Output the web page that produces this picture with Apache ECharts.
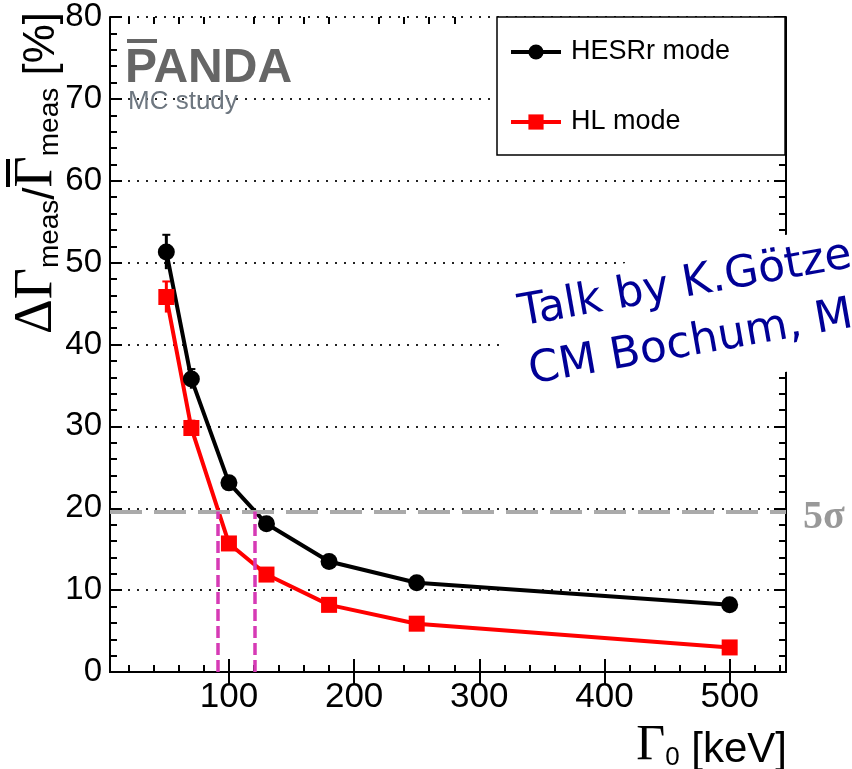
<!DOCTYPE html>
<html>
<head>
<meta charset="utf-8">
<script src="https://cdn.jsdelivr.net/npm/echarts@6/dist/echarts.min.js"></script>
<style>
  html, body { margin: 0; padding: 0; background: #fff; }
  #main { width: 852px; height: 769px; }
</style>
</head>
<body>
<div id="main"></div>
<script>
// Gamma_0 values [keV]
var gammaKeV = [50, 70, 100, 130, 180, 250, 500];
// relative width resolution [%]
var hesrRel = [51.3, 35.8, 23.1, 18.1, 13.5, 10.9, 8.2];
var hesrErr = [2.1, 1.2, 0.6, 0.5, 0.4, 0.3, 0.3];
var hlRel = [45.8, 29.8, 15.7, 11.9, 8.2, 5.9, 3.0];
var hlErr = [1.9, 0.9, 0.5, 0.4, 0.3, 0.2, 0.2];

// 5 sigma level and where the curves cross it
var fiveSigma = 19.6;
var crossX = [91, 121];

// axes
var xMin = 5, xMax = 545;
var xMajor = [100, 200, 300, 400, 500];
var xMinor = [20, 40, 60, 80, 120, 140, 160, 180, 220, 240, 260, 280, 320, 340, 360, 380, 420, 440, 460, 480, 520, 540];
var yMin = 0, yMax = 80, yStep = 10;

var axisCol = '#000';
var sans = 'Liberation Sans, Arial, sans-serif';
var serif = 'Liberation Serif, Times New Roman, serif';

function pairs(xs, ys) {
  return xs.map(function (x, i) { return [x, ys[i]]; });
}
function triples(xs, ys, es) {
  return xs.map(function (x, i) { return [x, ys[i], es[i]]; });
}

function errBar(color) {
  return function (params, api) {
    var x = api.value(0), y = api.value(1), e = api.value(2);
    var top = api.coord([x, y + e]);
    var bot = api.coord([x, y - e]);
    return {
      type: 'group',
      children: [
        { type: 'line', shape: { x1: top[0], y1: top[1], x2: bot[0], y2: bot[1] }, style: { stroke: color, lineWidth: 3 } },
        { type: 'line', shape: { x1: top[0] - 4, y1: top[1], x2: top[0] + 4, y2: top[1] }, style: { stroke: color, lineWidth: 2 } }
      ]
    };
  };
}

var myChart = echarts.init(document.getElementById('main'));

var gridBox = { left: 110, right: 66, top: 17, bottom: 97 };

const option = {
  animation: false,
  backgroundColor: '#fff',
  grid: [
    Object.assign({}, gridBox),
    Object.assign({}, gridBox)
  ],
  legend: {
    orient: 'vertical',
    left: 497,
    top: 17,
    data: ['HESRr mode', 'HL mode'],
    backgroundColor: '#fff',
    borderColor: '#000',
    borderWidth: 1.5,
    padding: [20, 55, 18, 12],
    itemGap: 40,
    itemWidth: 50,
    itemHeight: 19,
    lineStyle: { width: 4 },
    textStyle: { fontFamily: sans, fontSize: 27, color: '#000', lineHeight: 30, padding: [0, 0, 0, 5] }
  },
  xAxis: [
    {
      type: 'value', gridIndex: 0, position: 'bottom', min: xMin, max: xMax,
      axisLine: { show: true, lineStyle: { color: axisCol, width: 2 } },
      axisTick: { show: true, inside: true, length: 13, customValues: xMajor, lineStyle: { color: axisCol, width: 2 } },
      axisLabel: { show: true, customValues: xMajor, fontFamily: sans, fontSize: 35, color: '#000', margin: 8 },
      splitLine: { show: false }
    },
    {
      type: 'value', gridIndex: 0, position: 'top', min: xMin, max: xMax,
      axisLine: { show: true, lineStyle: { color: axisCol, width: 2 } },
      axisTick: { show: true, inside: true, length: 13, customValues: xMajor, lineStyle: { color: axisCol, width: 2 } },
      axisLabel: { show: false },
      splitLine: { show: false }
    },
    {
      type: 'value', gridIndex: 1, position: 'bottom', min: xMin, max: xMax,
      axisLine: { show: false },
      axisTick: { show: true, inside: true, length: 7, customValues: xMinor, lineStyle: { color: axisCol, width: 2 } },
      axisLabel: { show: false },
      splitLine: { show: false }
    },
    {
      type: 'value', gridIndex: 1, position: 'top', min: xMin, max: xMax,
      axisLine: { show: false },
      axisTick: { show: true, inside: true, length: 7, customValues: xMinor, lineStyle: { color: axisCol, width: 2 } },
      axisLabel: { show: false },
      splitLine: { show: false }
    }
  ],
  yAxis: [
    {
      type: 'value', gridIndex: 0, position: 'left', min: yMin, max: yMax, interval: yStep,
      axisLine: { show: true, lineStyle: { color: axisCol, width: 2 } },
      axisTick: { show: true, inside: true, length: 12, lineStyle: { color: axisCol, width: 2 } },
      minorTick: { show: true, splitNumber: 5, length: 7, lineStyle: { color: axisCol, width: 2 } },
      axisLabel: { fontFamily: sans, fontSize: 33, color: '#000', margin: 8 },
      splitLine: { show: true, lineStyle: { color: '#222', width: 2, type: [2, 7] } }
    },
    {
      type: 'value', gridIndex: 0, position: 'right', min: yMin, max: yMax, interval: yStep,
      axisLine: { show: true, lineStyle: { color: axisCol, width: 2 } },
      axisTick: { show: true, inside: true, length: 12, lineStyle: { color: axisCol, width: 2 } },
      minorTick: { show: true, splitNumber: 5, length: 7, lineStyle: { color: axisCol, width: 2 } },
      axisLabel: { show: false },
      splitLine: { show: false }
    },
    {
      type: 'value', gridIndex: 1, min: yMin, max: yMax, show: false
    }
  ],
  series: [
    {
      name: 'HESRr err', type: 'custom', xAxisIndex: 0, yAxisIndex: 0,
      data: triples(gammaKeV, hesrRel, hesrErr), encode: { x: 0, y: 1 },
      renderItem: errBar('#000'), silent: true, z: 3
    },
    {
      name: 'HL err', type: 'custom', xAxisIndex: 0, yAxisIndex: 0,
      data: triples(gammaKeV, hlRel, hlErr), encode: { x: 0, y: 1 },
      renderItem: errBar('#ff0000'), silent: true, z: 3
    },
    {
      name: 'HESRr mode', type: 'line', xAxisIndex: 0, yAxisIndex: 0,
      data: pairs(gammaKeV, hesrRel),
      symbol: 'circle', symbolSize: 17,
      itemStyle: { color: '#000' },
      lineStyle: { color: '#000', width: 4 },
      z: 4,
      markLine: {
        silent: true, symbol: ['none', 'none'], label: { show: false },
        data: [
          { yAxis: fiveSigma, lineStyle: { color: '#aaa', width: 4, type: [32, 12] } },
          [{ coord: [crossX[0], 0], lineStyle: { color: '#d63ab5', width: 3.5, type: [12, 5] } }, { coord: [crossX[0], fiveSigma] }],
          [{ coord: [crossX[1], 0], lineStyle: { color: '#d63ab5', width: 3.5, type: [12, 5] } }, { coord: [crossX[1], fiveSigma] }]
        ]
      }
    },
    {
      name: 'HL mode', type: 'line', xAxisIndex: 0, yAxisIndex: 0,
      data: pairs(gammaKeV, hlRel),
      symbol: 'rect', symbolSize: 16,
      itemStyle: { color: '#ff0000' },
      lineStyle: { color: '#ff0000', width: 4 },
      z: 4
    }
  ],
  graphic: [
    // y axis title
    {
      type: 'text', x: 34, y: 173, rotation: Math.PI / 2,
      style: {
        text: '{g|ΔΓ}{s|meas}{n|/}{g|Γ}{s|meas}{n| [%]}',
        align: 'center', verticalAlign: 'middle',
        rich: {
          g: { fontFamily: serif, fontSize: 54, lineHeight: 60, verticalAlign: 'bottom', fill: '#000' },
          s: { fontFamily: sans, fontSize: 28, lineHeight: 44, verticalAlign: 'bottom', fill: '#000' },
          n: { fontFamily: sans, fontSize: 44, lineHeight: 60, verticalAlign: 'bottom', fill: '#000' }
        }
      }
    },
    // bar over the second Gamma
    { type: 'rect', shape: { x: 6, y: 159, width: 4, height: 28 }, style: { fill: '#000' } },
    // x axis title
    {
      type: 'text', x: 787, y: 745,
      style: {
        text: '{g|Γ}{s|0}{n| [keV]}',
        align: 'right', verticalAlign: 'middle',
        rich: {
          g: { fontFamily: serif, fontSize: 50, lineHeight: 52, verticalAlign: 'bottom', fill: '#000' },
          s: { fontFamily: sans, fontSize: 26, lineHeight: 44, verticalAlign: 'bottom', fill: '#000' },
          n: { fontFamily: sans, fontSize: 42, lineHeight: 52, verticalAlign: 'bottom', fill: '#000' }
        }
      }
    },
    // PANDA logo
    { type: 'rect', shape: { x: 127, y: 39, width: 30, height: 4 }, style: { fill: '#666' }, z: 10 },
    {
      type: 'text', x: 125, y: 45, z: 10,
      style: { text: 'PANDA', fontFamily: sans, fontWeight: 'bold', fontSize: 48, fill: '#666', verticalAlign: 'top' }
    },
    {
      type: 'text', x: 128, y: 89, z: 10,
      style: { text: 'MC study', fontFamily: sans, fontSize: 26, fill: '#6e7780', verticalAlign: 'top' }
    },
    // 5 sigma
    {
      type: 'text', x: 803, y: 518,
      style: { text: '5σ', fontFamily: serif, fontWeight: 'bold', fontSize: 40, fill: '#999', verticalAlign: 'middle' }
    },
    // talk annotation
    {
      type: 'polygon', z: 100,
      shape: { points: [[495, 286], [870, 220], [893, 353], [518, 419]] },
      style: { fill: '#fff' }
    },
    {
      type: 'text', x: 523, y: 336, rotation: 0.175, z: 101,
      style: { text: 'Talk by K.Götze', fontFamily: 'DejaVu Sans', fontSize: 44, fill: '#000096', verticalAlign: 'bottom' }
    },
    {
      type: 'text', x: 533, y: 394, rotation: 0.175, z: 101,
      style: { text: 'CM Bochum, M', fontFamily: 'DejaVu Sans', fontSize: 44, fill: '#000096', verticalAlign: 'bottom' }
    }
  ]
};

myChart.setOption(option, true);
</script>
</body>
</html>
